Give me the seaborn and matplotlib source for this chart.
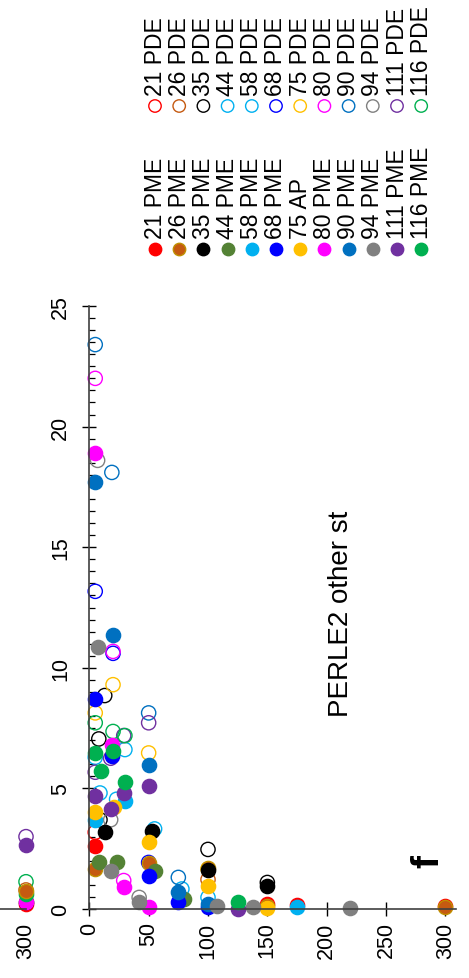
import matplotlib
matplotlib.use("Agg")
import matplotlib.pyplot as plt
import seaborn as sns
from matplotlib.ticker import MultipleLocator

sns.set_style("ticks")
plt.rcParams["font.family"] = ["Liberation Sans", "DejaVu Sans"]

# ---- station profiles: depth (m) and value, PME/AP (filled) and PDE (open) ----
stations = ["21", "26", "35", "44", "58", "68", "75", "80", "90", "94", "111", "116"]
pme_names = ["21 PME", "26 PME", "35 PME", "44 PME", "58 PME", "68 PME",
             "75 AP", "80 PME", "90 PME", "94 PME", "111 PME", "116 PME"]
pde_names = ["21 PDE", "26 PDE", "35 PDE", "44 PDE", "58 PDE", "68 PDE",
             "75 PDE", "80 PDE", "90 PDE", "94 PDE", "111 PDE", "116 PDE"]

st21_pme_depth = [5, 150, 175, 300]
st21_pme = [2.63, 0.20, 0.18, 0.12]
st21_pde_depth = [5]
st21_pde = [3.18]

st26_pme_depth = [5, 50, 100, 150, 300]
st26_pme = [1.66, 1.90, 1.70, 0.14, 0.07]
st26_pde_depth = [100]
st26_pde = [1.22]

st35_pme_depth = [13, 53, 100, 150]
st35_pme = [3.18, 3.25, 1.60, 0.94]
st35_pde_depth = [8, 9, 13, 100, 150]
st35_pde = [7.05, 3.70, 8.85, 2.47, 1.10]

st44_pme_depth = [8, 23, 55, 80]
st44_pme = [1.96, 1.96, 1.59, 0.41]
st44_pde_depth = [5, 23, 55, 100]
st44_pde = [6.29, 4.55, 3.32, 0.48]

st58_pme_depth = [5, 30, 175]
st58_pme = [3.69, 4.49, 0.08]
st58_pde_depth = [9, 30, 78]
st58_pde = [4.81, 6.61, 0.83]

st68_pme_depth = [5, 19, 50, 75, 100]
st68_pme = [8.71, 6.36, 1.35, 0.30, 0.07]
st68_pde_depth = [5, 20, 50]
st68_pde = [13.17, 10.60, 1.93]

st75_ap_depth = [5, 21, 50, 100, 150]
st75_ap = [4.04, 4.22, 2.77, 0.94, 0.03]
st75_pde_depth = [5, 20, 50, 100]
st75_pde = [8.13, 9.30, 6.47, 1.66]

st80_pme_depth = [5, 19, 29, 50]
st80_pme = [18.90, 6.78, 0.90, 0.07]
st80_pde_depth = [5, 20, 29]
st80_pde = [22.00, 10.68, 1.18]

st90_pme_depth = [5, 20, 50, 75, 100]
st90_pme = [17.70, 11.37, 5.98, 0.69, 0.20]
st90_pde_depth = [5, 19, 50, 75]
st90_pde = [23.40, 18.10, 8.13, 1.31]

st94_pme_depth = [7, 18, 42, 108, 138, 220]
st94_pme = [10.88, 1.59, 0.28, 0.12, 0.07, 0.03]
st94_pde_depth = [7, 18, 42]
st94_pde = [18.60, 3.70, 0.48]

st111_pme_depth = [5, 18, 29, 50, 125]
st111_pme = [4.67, 4.15, 4.79, 5.12, 0.00]
st111_pde_depth = [5, 18, 29, 50]
st111_pde = [5.67, 6.25, 7.19, 7.72]

st116_pme_depth = [5, 10, 20, 30, 125]
st116_pme = [6.47, 5.74, 6.53, 5.28, 0.27]
st116_pde_depth = [5, 20, 30]
st116_pde = [7.72, 7.36, 7.19]

# neighbouring panel (e): deepest samples
e_pme_names = ["21 PME", "35 PME", "80 PME", "116 PME", "26 PME", "111 PME"]
e_pme_depth = [300, 300, 300, 300, 300, 300]
e_pme = [0.20, 0.30, 0.28, 0.62, 0.75, 2.65]
e_pde_names = ["26 PDE", "116 PDE", "111 PDE"]
e_pde_depth = [300, 300, 300]
e_pde = [0.79, 1.13, 3.00]

depth_ticks = [0, 50, 100, 150, 200, 250, 300]
value_ticks = [0, 5, 10, 15, 20, 25]

pme_depths = [st21_pme_depth, st26_pme_depth, st35_pme_depth, st44_pme_depth,
              st58_pme_depth, st68_pme_depth, st75_ap_depth, st80_pme_depth,
              st90_pme_depth, st94_pme_depth, st111_pme_depth, st116_pme_depth]
pme_values = [st21_pme, st26_pme, st35_pme, st44_pme, st58_pme, st68_pme,
              st75_ap, st80_pme, st90_pme, st94_pme, st111_pme, st116_pme]
pde_depths = [st21_pde_depth, st26_pde_depth, st35_pde_depth, st44_pde_depth,
              st58_pde_depth, st68_pde_depth, st75_pde_depth, st80_pde_depth,
              st90_pde_depth, st94_pde_depth, st111_pde_depth, st116_pde_depth]
pde_values = [st21_pde, st26_pde, st35_pde, st44_pde, st58_pde, st68_pde,
              st75_pde, st80_pde, st90_pde, st94_pde, st111_pde, st116_pde]

# ---- styles ----
pme_colors = ["#FF0000", "#C55A11", "#000000", "#548235", "#00B0F0", "#0000FF",
              "#FFC000", "#FF00FF", "#0070C0", "#808080", "#7030A0", "#00B050"]
pme_edges = list(pme_colors)
pme_edges[1] = "#BF9000"
pde_colors = ["#FF0000", "#C55A11", "#000000", "#00B0F0", "#00B0F0", "#0000FF",
              "#FFC000", "#FF00FF", "#0070C0", "#808080", "#7030A0", "#00B050"]
pme_color_map = dict(zip(pme_names, pme_colors))
pme_edge_map = dict(zip(pme_names, pme_edges))
pde_color_map = dict(zip(pde_names, pde_colors))

W, H = 469, 979
fig = plt.figure(figsize=(W / 100, H / 100), dpi=100)

px_per_unit = 1.187
ax_bottom = (H - 910) / H
ax_height = 603 / H

main_ax = fig.add_axes([89.3 / W, ax_bottom, 309 * px_per_unit / W, ax_height])
left_ax = fig.add_axes([(26 - 300 * px_per_unit) / W, ax_bottom,
                        300 * px_per_unit / W, ax_height])

MS = 105
LW = 1.0


def draw_open(ax, x, y, color):
    sns.scatterplot(x=x, y=y, ax=ax, marker="o", s=MS, color=color,
                    facecolor="none", edgecolor=color, linewidth=LW,
                    clip_on=False, legend=False)


def draw_filled(ax, x, y, color, edge):
    sns.scatterplot(x=x, y=y, ax=ax, marker="o", s=MS, color=color,
                    edgecolor=edge, linewidth=LW, clip_on=False, legend=False)


for i in range(len(stations)):
    draw_open(main_ax, pde_depths[i], pde_values[i], pde_colors[i])
for i in range(len(stations)):
    draw_filled(main_ax, pme_depths[i], pme_values[i], pme_colors[i], pme_edges[i])

for name, d, v in zip(e_pde_names, e_pde_depth, e_pde):
    draw_open(left_ax, [d], [v], pde_color_map[name])
for name, d, v in zip(e_pme_names, e_pme_depth, e_pme):
    draw_filled(left_ax, [d], [v], pme_color_map[name], pme_edge_map[name])


def style_axes(ax):
    for side in ("top", "right"):
        ax.spines[side].set_visible(False)
    for side in ("left", "bottom"):
        ax.spines[side].set_color("#404040")
        ax.spines[side].set_linewidth(1.2)
    ax.set_xlabel("")
    ax.set_ylabel("")
    ax.patch.set_alpha(0)


# main panel (f)
main_ax.set_xlim(0, 309)
main_ax.set_ylim(0, 25)
main_ax.set_xticks(depth_ticks)
main_ax.set_xticklabels([str(t) for t in depth_ticks], rotation=90, ha="center", va="top")
main_ax.set_yticks(value_ticks)
main_ax.set_yticklabels([str(t) for t in value_ticks], rotation=90, ha="right", va="center")
main_ax.yaxis.set_minor_locator(MultipleLocator(0.5))
main_ax.tick_params(axis="both", which="major", direction="inout", length=10,
                    width=1.0, color="black", labelsize=15.5, labelcolor="black")
main_ax.tick_params(axis="x", which="major", pad=4)
main_ax.tick_params(axis="y", which="major", pad=8)
main_ax.tick_params(axis="y", which="minor", direction="in", length=4, width=0.9,
                    color="black")
style_axes(main_ax)

# neighbouring panel (e), only its right end is in view
left_ax.set_xlim(0, 300)
left_ax.set_ylim(0, 25)
left_ax.set_xticks([300])
left_ax.set_xticklabels(["300"], rotation=90, ha="center", va="top")
left_ax.set_yticks([])
left_ax.tick_params(axis="x", which="major", direction="inout", length=0,
                    labelsize=15.5, labelcolor="black", pad=9)
style_axes(left_ax)
left_ax.spines["left"].set_visible(False)

# ---- legend and annotations, in pixel coordinates ----
over = fig.add_axes([0, 0, 1, 1])
over.set_xlim(0, W)
over.set_ylim(H, 0)
over.axis("off")

col_x0, col_dx = 155, 24.2
for i in range(len(stations)):
    cx = col_x0 + col_dx * i
    over.scatter([cx], [250], s=80, color=pme_colors[i], edgecolor=pme_edges[i],
                 linewidth=LW, clip_on=False)
    over.text(cx, 239, pme_names[i], rotation=90, ha="center", va="bottom",
              fontsize=16.5, color="black")
    over.scatter([cx], [107], s=80, facecolor="none", edgecolor=pde_colors[i],
                 linewidth=LW, clip_on=False)
    over.text(cx, 96, pde_names[i], rotation=90, ha="center", va="bottom",
              fontsize=16.5, color="black")

over.text(341, 614, "PERLE2 other st", rotation=90, ha="center", va="center",
          fontsize=20, color="black")
over.text(428, 862, "f", rotation=90, ha="center", va="center",
          fontsize=28, fontweight="bold", color="black")

fig.savefig("out.png", dpi=100)
